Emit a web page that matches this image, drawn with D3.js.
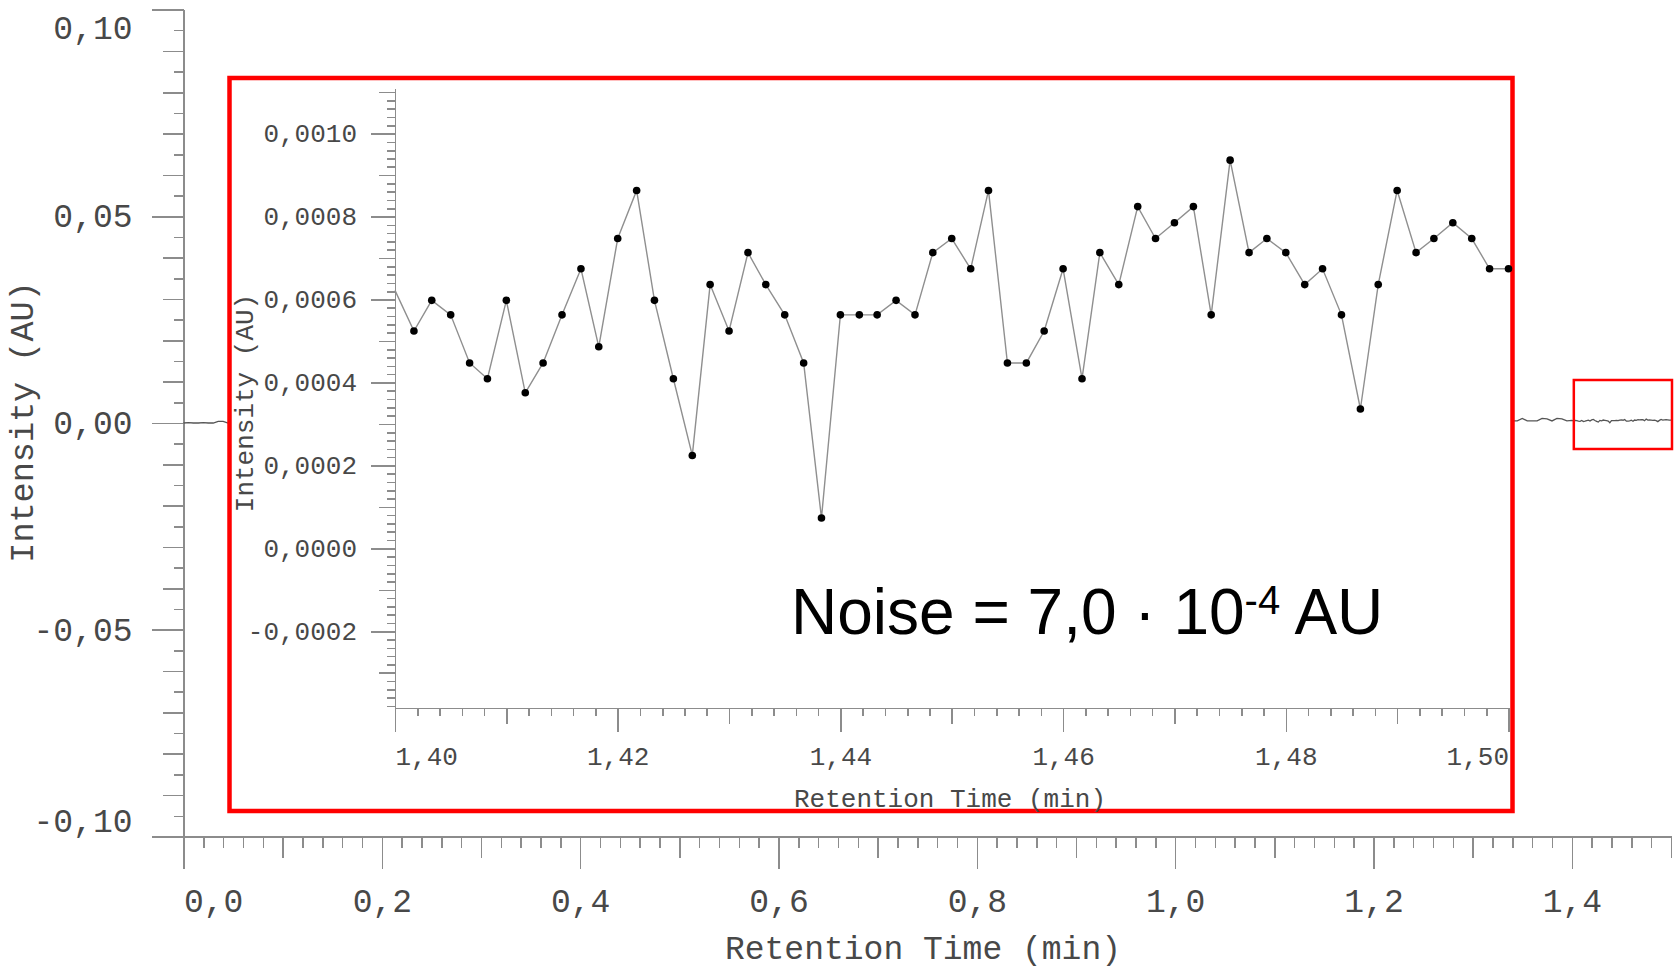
<!DOCTYPE html>
<html>
<head>
<meta charset="utf-8">
<script src="https://cdn.jsdelivr.net/npm/d3@7"></script>
<style>
  body { margin: 0; background: #fff; }
  svg { display: block; }
  .axis path, .axis line { stroke: #8c8c8c; stroke-width: 1.6; shape-rendering: crispEdges; }
  .axis text { fill: #484848; font-family: "Liberation Mono", "Courier New", monospace; }
  .title { fill: #484848; font-family: "Liberation Mono", "Courier New", monospace; }
</style>
</head>
<body>
<svg id="chart" width="1674" height="971"></svg>
<script>
/*global d3 */

//*************************1. Data

// zoomed signal, 1,40 - 1,50 min (10 Hz)
const insetTimes = [1.4000, 1.4017, 1.4033, 1.4050, 1.4067, 1.4083,
  1.4100, 1.4117, 1.4133, 1.4150, 1.4167, 1.4183,
  1.4200, 1.4217, 1.4233, 1.4250, 1.4267, 1.4283,
  1.4300, 1.4317, 1.4333, 1.4350, 1.4367, 1.4383,
  1.4400, 1.4417, 1.4433, 1.4450, 1.4467, 1.4483,
  1.4500, 1.4517, 1.4533, 1.4550, 1.4567, 1.4583,
  1.4600, 1.4617, 1.4633, 1.4650, 1.4667, 1.4683,
  1.4700, 1.4717, 1.4733, 1.4750, 1.4767, 1.4783,
  1.4800, 1.4817, 1.4833, 1.4850, 1.4867, 1.4883,
  1.4900, 1.4917, 1.4933, 1.4950, 1.4967, 1.4983,
  1.5000]
const insetValues = [0.000622, 0.000524, 0.000598, 0.000563, 0.000447, 0.000409,
  0.000598, 0.000375, 0.000447, 0.000563, 0.000674, 0.000486,
  0.000747, 0.000863, 0.000598, 0.000409, 0.000224, 0.000636,
  0.000524, 0.000713, 0.000636, 0.000563, 0.000447, 0.000073,
  0.000563, 0.000563, 0.000563, 0.000598, 0.000563, 0.000713,
  0.000747, 0.000674, 0.000863, 0.000447, 0.000447, 0.000524,
  0.000674, 0.000409, 0.000713, 0.000636, 0.000824, 0.000747,
  0.000785, 0.000824, 0.000563, 0.000936, 0.000713, 0.000747,
  0.000713, 0.000636, 0.000674, 0.000563, 0.000336, 0.000636,
  0.000863, 0.000713, 0.000747, 0.000785, 0.000747, 0.000674,
  0.000674]

// visible bits of the full chromatogram outside the inset
const leftTimes = [0.000, 0.005, 0.010, 0.015, 0.020, 0.025, 0.030, 0.035, 0.040, 0.045, 0.050]
const leftValues = [0.0000, 0.0001, 0.0000, 0.0000, 0.0001, 0.0000, 0.0000, 0.0004, 0.0004, 0.0000, 0.0000]
const rightTimes = [1.335, 1.340, 1.345, 1.350, 1.355, 1.360, 1.365, 1.370, 1.375, 1.380, 1.385, 1.390, 1.395]
const rightValues = [0.0002, 0.0005, 0.0005, 0.0011, 0.0005, 0.0005, 0.0005, 0.0011, 0.0010, 0.0005, 0.0011, 0.0010, 0.0005]

// labelled ticks
const outerXTicks = [0.0, 0.2, 0.4, 0.6, 0.8, 1.0, 1.2, 1.4]
const outerYTicks = [-0.10, -0.05, 0.00, 0.05, 0.10]
const insetXTicks = [1.40, 1.42, 1.44, 1.46, 1.48, 1.50]
const insetYTicks = [-0.0002, 0.0000, 0.0002, 0.0004, 0.0006, 0.0008, 0.0010]

// window marked on the full trace (min)
const zoomWindow = [1.402, 1.501]

const noiseLabel = "Noise = 7,0 \u00B7 10"
const noiseExp = "-4"
const noiseUnit = " AU"

//*************************2. Scales

const svg = d3.select("#chart")

const x = d3.scaleLinear().domain([0, 1.5]).range([183.5, 1671])
const y = d3.scaleLinear().domain([-0.10, 0.10]).range([836.5, 9.5])
const xi = d3.scaleLinear().domain([1.40, 1.50]).range([395, 1508.5])
const yi = d3.scaleLinear().domain([-0.000385, 0.00111]).range([708, 88])

const locale = d3.formatLocale({decimal: ",", thousands: ".", grouping: [3], currency: ["", ""], minus: "-"})

const onStep = (v, step) => Math.abs(v / step - Math.round(v / step)) < 1e-6

// three tick lengths: minor / mid / labelled major
function tieredAxis(g, axisGen, scale, count, midStep, majors, sizes, fmt, pad) {
  const all = scale.ticks(count)
  const isMajor = v => majors.some(m => Math.abs(m - v) < 1e-9)
  const minors = all.filter(v => !onStep(v, midStep) && !isMajor(v))
  const mids = all.filter(v => onStep(v, midStep) && !isMajor(v))
  g.append("g").call(axisGen(scale).tickValues(minors).tickSize(sizes[0]).tickFormat(""))
    .call(s => s.select(".domain").remove())
  g.append("g").call(axisGen(scale).tickValues(mids).tickSize(sizes[1]).tickFormat(""))
    .call(s => s.select(".domain").remove())
  return g.append("g").call(axisGen(scale).tickValues(majors).tickSize(sizes[2]).tickSizeOuter(0)
    .tickPadding(pad).tickFormat(fmt))
}

//*************************3. Outer chromatogram

const outerX = svg.append("g").attr("class", "axis").attr("transform", `translate(0,${y(-0.10)})`)
const outerXMajor = tieredAxis(outerX, d3.axisBottom, x, 75, 0.1, outerXTicks, [11, 21, 32], locale.format(".1f"), 20)
outerXMajor.selectAll(".tick text").style("font-size", "33px")
  .attr("text-anchor", d => d === 0 ? "start" : "middle")

const outerY = svg.append("g").attr("class", "axis").attr("transform", `translate(${x(0)},0)`)
const outerYMajor = tieredAxis(outerY, d3.axisLeft, y, 40, 0.01, outerYTicks, [10, 21, 32], locale.format(".2f"), 19)
outerYMajor.selectAll(".tick text").style("font-size", "33px")
  .attr("dy", d => d === 0.10 ? "0.88em" : d === -0.10 ? "-0.15em" : "0.32em")

svg.append("text").attr("class", "title")
  .attr("x", 923).attr("y", 959).attr("text-anchor", "middle")
  .style("font-size", "33px")
  .text("Retention Time (min)")

svg.append("text").attr("class", "title")
  .attr("transform", "translate(33,422) rotate(-90)").attr("text-anchor", "middle")
  .style("font-size", "33.5px")
  .text("Intensity (AU)")

const outerTimes = leftTimes.concat(rightTimes, insetTimes)
const outerValues = leftValues.concat(rightValues, insetValues)

svg.append("path")
  .datum(d3.range(outerTimes.length))
  .attr("fill", "none")
  .attr("stroke", "#555")
  .attr("stroke-width", 1.3)
  .attr("d", d3.line().x(i => x(outerTimes[i])).y(i => y(outerValues[i])))

// marker of the zoomed window
svg.append("rect")
  .attr("x", x(zoomWindow[0])).attr("y", 380)
  .attr("width", x(zoomWindow[1]) - x(zoomWindow[0])).attr("height", 69)
  .attr("fill", "none").attr("stroke", "#ff0000").attr("stroke-width", 2.5)

//*************************4. Inset

svg.append("rect")
  .attr("x", 229.5).attr("y", 78).attr("width", 1283).attr("height", 733)
  .attr("fill", "#fff").attr("stroke", "#ff0000").attr("stroke-width", 4.5)

const insetX = svg.append("g").attr("class", "axis").attr("transform", `translate(0,${yi.range()[0]})`)
const insetXMajor = tieredAxis(insetX, d3.axisBottom, xi, 50, 0.01, insetXTicks, [8, 16, 24], locale.format(".2f"), 15)
insetXMajor.selectAll(".tick text").style("font-size", "26px")
  .attr("text-anchor", (d, i) => i === 0 ? "start" : i === insetXTicks.length - 1 ? "end" : "middle")

const insetY = svg.append("g").attr("class", "axis").attr("transform", `translate(${xi(1.40)},0)`)
const insetYMajor = tieredAxis(insetY, d3.axisLeft, yi, 75, 0.0001, insetYTicks, [8, 16, 24], locale.format(".4f"), 14)
insetYMajor.selectAll(".tick text").style("font-size", "26px")

svg.append("text").attr("class", "title")
  .attr("x", 950).attr("y", 807).attr("text-anchor", "middle")
  .style("font-size", "26px")
  .text("Retention Time (min)")

svg.append("text").attr("class", "title")
  .attr("transform", "translate(253,403) rotate(-90)").attr("text-anchor", "middle")
  .style("font-size", "26px")
  .text("Intensity (AU)")

const insetData = insetTimes.map((t, i) => ({t: t, v: insetValues[i]}))

svg.append("path")
  .datum(insetData)
  .attr("fill", "none")
  .attr("stroke", "#8f8f8f")
  .attr("stroke-width", 1.4)
  .attr("d", d3.line().x(d => xi(d.t)).y(d => yi(d.v)))

svg.append("g").selectAll("circle")
  .data(insetData.filter(d => d.t > xi.domain()[0]))
  .join("circle")
  .attr("cx", d => xi(d.t))
  .attr("cy", d => yi(d.v))
  .attr("r", 3.8)
  .attr("fill", "#000")

//*************************5. Annotation

const note = svg.append("text")
  .attr("x", 791).attr("y", 634)
  .style("font-family", "'Liberation Sans', Arial, sans-serif")
  .style("font-size", "64px")
  .attr("fill", "#000")
note.append("tspan").text(noiseLabel)
note.append("tspan").attr("dy", -20).style("font-size", "40px").text(noiseExp)
note.append("tspan").attr("dy", 20).text(noiseUnit)
</script>
</body>
</html>
